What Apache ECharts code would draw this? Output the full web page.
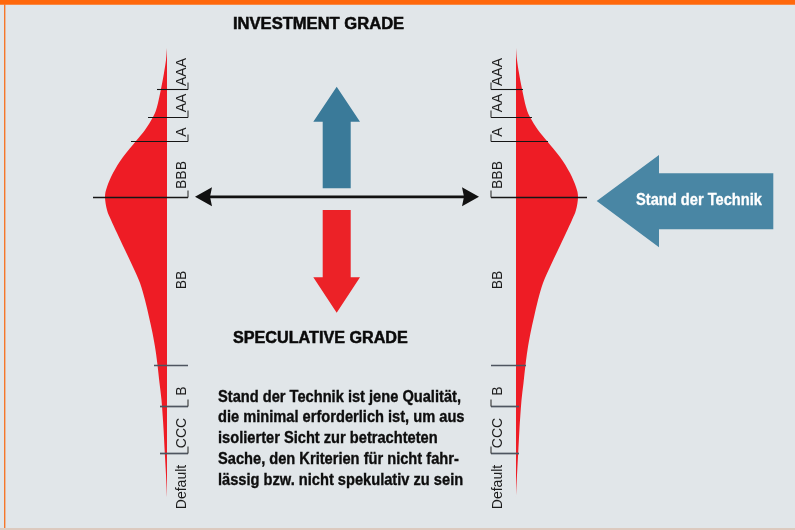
<!DOCTYPE html>
<html><head><meta charset="utf-8">
<script src="https://cdn.jsdelivr.net/npm/echarts@6/dist/echarts.min.js"></script>
<style>html,body{margin:0;padding:0;background:#e1e6e9}#c{width:795px;height:530px}</style>
</head><body><div id="c"></div>
<script>
// Rating classes (top = best) and where their labels sit on the rating scale
const ratings = ['AAA', 'AA', 'A', 'BBB', 'BB', 'B', 'CCC', 'Default'];
const ratingLabelPos = [24, 55, 84, 127, 232, 343, 385, 439];
// Class boundaries on the rating scale
const boundaryPos = [41, 69, 93, 149, 317, 358, 405];
const boundaryTick = [true, true, true, true, false, true, true];
const leftLineReach = [10, 19, 36, 74, 13, 7, 7];
const rightLineReach = [7, 16, 32, 71, 10, 3, 3];
// Distribution profile: position on rating scale vs. density
const profilePos = [0, 12, 25, 41, 59, 69, 82, 93, 109, 125, 139, 149, 162, 172, 185, 202, 219, 235, 252, 269, 285, 302, 317, 335, 352, 368, 382, 405, 427, 449];
const profileDensity = [0, 1, 3, 6, 10, 14, 22, 31, 44, 54, 60, 62, 60, 56, 50, 42, 34, 27, 22, 18, 14.5, 11.5, 9.5, 7.5, 5.5, 4.3, 3.4, 2.2, 1, 0];
// Texts
const titleTop = 'INVESTMENT GRADE';
const titleBottom = 'SPECULATIVE GRADE';
const arrowText = 'Stand der Technik';
const paragraph = ['Stand der Technik ist jene Qualität,', 'die minimal erforderlich ist, um aus', 'isolierter Sicht zur betrachteten', 'Sache, den Kriterien für nicht fahr-', 'lässig bzw. nicht spekulativ zu sein'];

const RED = '#ee1c25';
const chart = echarts.init(document.getElementById('c'), null, {renderer: 'canvas'});

function splinePath(pts) {
  let d = 'M' + pts[0][0] + ' ' + pts[0][1];
  for (let i = 0; i < pts.length - 1; i++) {
    const p0 = pts[Math.max(i - 1, 0)], p1 = pts[i], p2 = pts[i + 1], p3 = pts[Math.min(i + 2, pts.length - 1)];
    const c1 = [p1[0] + (p2[0] - p0[0]) / 6, p1[1] + (p2[1] - p0[1]) / 6];
    const c2 = [p2[0] - (p3[0] - p1[0]) / 6, p2[1] - (p3[1] - p1[1]) / 6];
    d += ' C' + c1[0] + ' ' + c1[1] + ' ' + c2[0] + ' ' + c2[1] + ' ' + p2[0] + ' ' + p2[1];
  }
  return d + ' Z';
}

function shapeSeries(idx) {
  return {
    type: 'custom', xAxisIndex: idx, yAxisIndex: idx, z: 2, silent: true,
    data: profilePos.map((p, i) => [profileDensity[i], p]),
    renderItem: function (params, api) {
      if (params.dataIndex !== 0) return null;
      const pts = profilePos.map((p, i) => api.coord([profileDensity[i], p]));
      return {type: 'path', shape: {pathData: splinePath(pts)}, style: {fill: RED}};
    }
  };
}

function lineSeries(idx) {
  const reach = idx === 0 ? leftLineReach : rightLineReach;
  return {
    type: 'custom', xAxisIndex: idx, yAxisIndex: idx, z: 4, silent: true,
    data: boundaryPos.map((p, i) => [reach[i], p]),
    renderItem: function (params, api) {
      const i = params.dataIndex;
      const a = api.coord([api.value(0), api.value(1)]);
      const b = api.coord([0, api.value(1)]);
      const endX = idx === 0 ? b[0] + 21 : b[0] - 25;
      const y = Math.round(a[1]) + 0.5;
      const dark = i < 4;
      const st = {stroke: dark ? '#161616' : '#4e5560', lineWidth: dark ? (i === 3 ? 1.4 : 1.1) : 1.7};
      const children = [{type: 'line', shape: {x1: a[0], y1: y, x2: endX, y2: y}, style: st}];
      if (boundaryTick[i]) {
        children.push({type: 'line', shape: {x1: endX, y1: y - 7, x2: endX, y2: y}, style: {stroke: '#333', lineWidth: 1.1}});
      }
      return {type: 'group', children: children};
    }
  };
}

function labelSeries(idx) {
  return {
    type: 'custom', xAxisIndex: idx, yAxisIndex: idx, z: 4, silent: true,
    data: ratingLabelPos.map(p => [0, p]),
    renderItem: function (params, api) {
      const c = api.coord([0, api.value(1)]);
      return {
        type: 'text', x: idx === 0 ? c[0] + 15.5 : c[0] - 18, y: c[1], rotation: Math.PI / 2,
        style: {text: ratings[params.dataIndex], fill: '#1c1c1c', font: '14px "Liberation Sans", Arial, sans-serif', align: 'center', verticalAlign: 'middle'}
      };
    }
  };
}

const boldFont = 'bold 16px "Liberation Sans", Arial, sans-serif';

chart.setOption({
  backgroundColor: '#e1e6e9',
  animation: false,
  grid: [
    {left: 67, width: 100, top: 48, height: 450},
    {left: 516, width: 100, top: 48, height: 450}
  ],
  xAxis: [
    {gridIndex: 0, type: 'value', min: 0, max: 100, inverse: true, show: false},
    {gridIndex: 1, type: 'value', min: 0, max: 100, show: false}
  ],
  yAxis: [
    {gridIndex: 0, type: 'value', min: 0, max: 450, inverse: true, show: false},
    {gridIndex: 1, type: 'value', min: 0, max: 450, inverse: true, show: false}
  ],
  series: [shapeSeries(0), shapeSeries(1), lineSeries(0), lineSeries(1), labelSeries(0), labelSeries(1)],
  graphic: [
    {type: 'rect', shape: {x: 0, y: 0, width: 795, height: 4.7}, style: {fill: '#ff680c'}},
    {type: 'rect', shape: {x: 4, y: 4, width: 1.4, height: 526}, style: {fill: '#f5772a'}},
    {type: 'rect', shape: {x: 0, y: 528, width: 795, height: 2}, style: {fill: '#dccabf'}},
    {type: 'text', x: 233, y: 25, scaleX: 1.035, style: {text: titleTop, font: boldFont, fill: '#0a0a0a', stroke: '#0a0a0a', lineWidth: 0.5, align: 'left', verticalAlign: 'middle'}},
    {type: 'text', x: 233, y: 339, scaleX: 1.01, style: {text: titleBottom, font: boldFont, fill: '#0a0a0a', stroke: '#0a0a0a', lineWidth: 0.5, align: 'left', verticalAlign: 'middle'}},
    // up arrow (blue)
    {type: 'polygon', shape: {points: [[336.7, 86.7], [360, 121.7], [350.7, 121.7], [350.7, 188.3], [322.7, 188.3], [322.7, 121.7], [313.3, 121.7]]}, style: {fill: '#3a7a99'}},
    // down arrow (red)
    {type: 'polygon', shape: {points: [[322.7, 210], [350.7, 210], [350.7, 277.3], [360, 277.3], [336.7, 312.7], [313.3, 277.3], [322.7, 277.3]]}, style: {fill: '#ec2227'}},
    // double arrow
    {type: 'line', shape: {x1: 206, y1: 196.8, x2: 468, y2: 196.8}, style: {stroke: '#111', lineWidth: 2.7}},
    {type: 'polygon', shape: {points: [[195, 196.8], [212, 187.3], [210, 196.8], [212, 206.3]]}, style: {fill: '#111'}},
    {type: 'polygon', shape: {points: [[479, 196.8], [462, 187.3], [464, 196.8], [462, 206.3]]}, style: {fill: '#111'}},
    // big left arrow
    {type: 'polygon', shape: {points: [[596.7, 201], [659, 155], [659, 173.3], [773.3, 173.3], [773.3, 229.3], [659, 229.3], [659, 247.3]]}, style: {fill: '#4986a4'}},
    {type: 'text', x: 699, y: 201, scaleX: 0.915, style: {text: arrowText, font: boldFont, fill: '#ffffff', stroke: '#ffffff', lineWidth: 0.3, align: 'center', verticalAlign: 'middle'}},
    {type: 'text', x: 218, y: 387, scaleX: 0.915, style: {text: paragraph.join('\n'), font: boldFont, lineHeight: 20.7, fill: '#0d0d0d', stroke: '#0d0d0d', lineWidth: 0.35, align: 'left', verticalAlign: 'top'}}
  ]
});
</script>
</body></html>
